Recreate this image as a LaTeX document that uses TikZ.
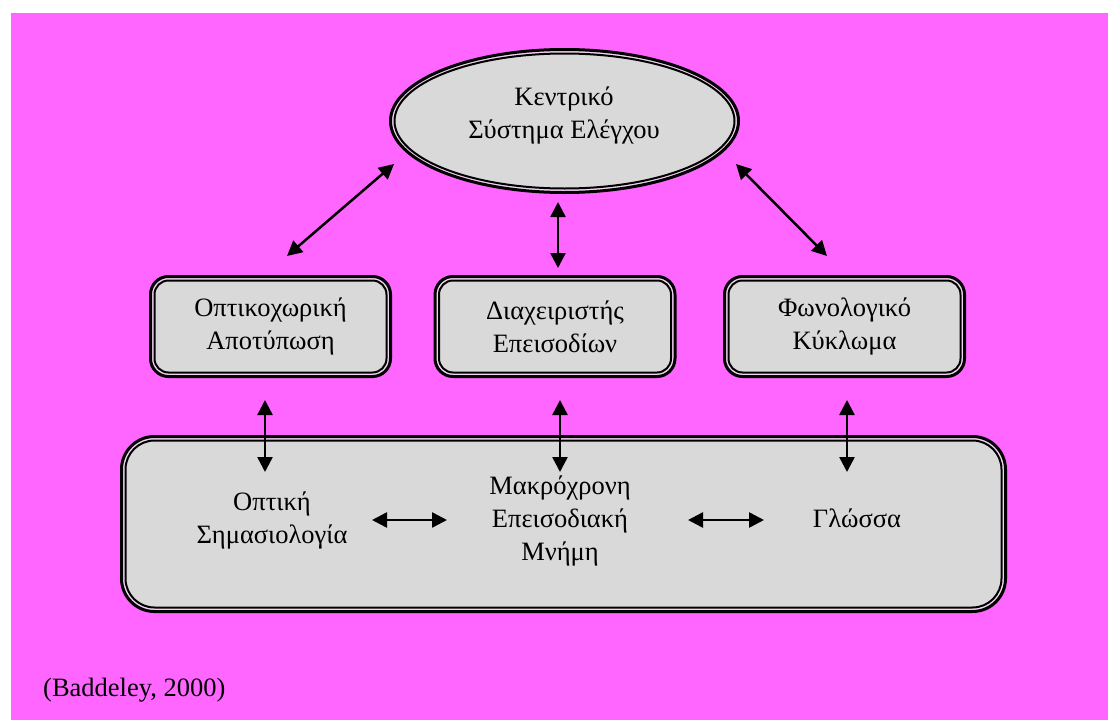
\documentclass[tikz,border=0pt]{standalone}
\usepackage{fontspec}
\setmainfont{Liberation Serif}
\usetikzlibrary{arrows.meta,shapes.geometric}

\definecolor{pagebg}{HTML}{FF66FF}
\definecolor{boxfill}{HTML}{D9D9D9}
\definecolor{gapfill}{HTML}{F4D4F4}
\newcommand\mainsize{\fontsize{26.5}{33}\selectfont}

\tikzset{
  frameout/.style={draw=black, line width=3pt, fill=gapfill, inner sep=0pt},
  framein/.style={draw=black, line width=2pt, fill=boxfill, inner sep=0pt,
                  align=center, font=\mainsize},
  lbl/.style={align=center, font=\mainsize, inner sep=0pt},
  link/.style={line width=2.5pt,
               {Triangle[length=15pt,width=15pt]}-{Triangle[length=15pt,width=15pt]}}
}

\begin{document}
\begin{tikzpicture}[x=1pt,y=-1pt]
  \fill[white] (0,0) rectangle (1108,720);
  \useasboundingbox (0,0) rectangle (1108,720);
  \fill[pagebg] (11,13) rectangle (1108,720);

  % central executive
  \node[frameout, ellipse, minimum width=348pt, minimum height=143pt] (csout) at (564.5,121) {};
  \node[framein, ellipse, minimum width=340pt, minimum height=135pt] (cs) at (564.5,121) {};
  \node[lbl] (cstext) at (564,115) {Κεντρικό\\Σύστημα Ελέγχου};

  % slave systems
  \node[frameout, rounded corners=18pt, minimum width=240pt, minimum height=100pt] (vsout) at (270.5,326.5) {};
  \node[framein, rounded corners=14pt, minimum width=232pt, minimum height=92pt] (vs) at (270.5,326.5) {Οπτικοχωρική\\Αποτύπωση};

  \node[frameout, rounded corners=18pt, minimum width=240pt, minimum height=100pt] (ebout) at (555,326.5) {};
  \node[framein, rounded corners=14pt, minimum width=232pt, minimum height=92pt] (eb) at (555,326.5) {Διαχειριστής\\Επεισοδίων};

  \node[frameout, rounded corners=18pt, minimum width=240pt, minimum height=100pt] (plout) at (844.5,326.5) {};
  \node[framein, rounded corners=14pt, minimum width=232pt, minimum height=92pt] (pl) at (844.5,326.5) {Φωνολογικό\\Κύκλωμα};

  % long-term systems
  \node[frameout, rounded corners=33pt, minimum width=884pt, minimum height=175pt] (ltout) at (563.5,524) {};
  \node[framein, rounded corners=29pt, minimum width=876pt, minimum height=167pt] (lt) at (563.5,524) {};
  \node[lbl] (vsem) at (272,520) {Οπτική\\Σημασιολογία};
  \node[lbl] (epltm) at (560,520.5) {Μακρόχρονη\\Επεισοδιακή\\Μνήμη};
  \node[lbl, anchor=base] (lang) at (857,527) {Γλώσσα};

  \node[font=\mainsize, inner sep=0pt, anchor=base west] (src) at (43,696) {(Baddeley, 2000)};

  % arrow end points
  \coordinate (a1) at (287,256);  \coordinate (b1) at (394,164);
  \coordinate (a2) at (736,164);  \coordinate (b2) at (827,256);
  \coordinate (a3) at (558,202);  \coordinate (b3) at (558,268);
  \coordinate (a4) at (265,400);  \coordinate (b4) at (265,472);
  \coordinate (a5) at (560,400);  \coordinate (b5) at (560,472);
  \coordinate (a6) at (847,400);  \coordinate (b6) at (847,472);
  \coordinate (a7) at (372,520);  \coordinate (b7) at (447,520);
  \coordinate (a8) at (688,520);  \coordinate (b8) at (764,520);

  \draw[link] (a1) -- (b1);
  \draw[link] (a2) -- (b2);
  \draw[link] (a3) -- (b3);
  \draw[link] (a4) -- (b4);
  \draw[link] (a5) -- (b5);
  \draw[link] (a6) -- (b6);
  \draw[link] (a7) -- (b7);
  \draw[link] (a8) -- (b8);
\end{tikzpicture}
\end{document}
